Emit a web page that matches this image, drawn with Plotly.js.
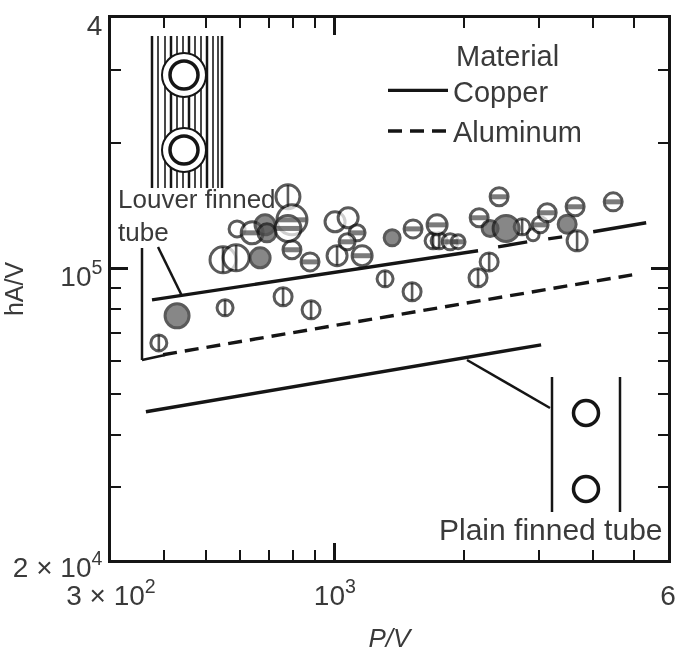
<!DOCTYPE html>
<html><head><meta charset="utf-8">
<script src="https://cdn.plot.ly/plotly-3.0.1.min.js"></script>
<style>html,body{margin:0;padding:0;background:#fff}#g{width:685px;height:653px;filter:blur(0.5px)}</style>
</head><body><div id="g"></div>
<script>
// Reference lines (P/V, hA/V); null marks the gaps left by the data circles
const copperX=[374,2160,null,2406,2813,null,3150,3395,null,4012,5335];
const copperY=[84250,110500,null,112900,116100,null,118000,119300,null,122700,129000];
const aluminumX=[397,4948];
const aluminumY=[62200,96700];
const plainX=[362,3032];
const plainY=[45370,65700];

// Data circles by fill style
const filledX=[428,669,687,694,1361,2305,2512,3488];
const filledY=[77100,106300,127500,122000,118700,125000,125000,128000];
const filledSize=[24,20,20,18,16,16,26,18];

const openX=[591,1001,1074,2904];
const openY=[124700,129700,132600,120700];
const openSize=[16,20,20,12];

const barredX=[641,794,794,875,1127,1068,1158,1523,1733,1859,1940,2419,2173,3016,3133,3641,4468,777];
const barredY=[122000,131100,111100,103900,122000,116100,107500,124700,127500,116100,116100,148900,132600,127500,136300,140900,144800,125000];
const barredSize=[22,30,18,18,16,16,20,18,20,16,14,18,18,16,18,18,18,26];

const splitX=[548,588,388,554,757,880,777,1012,1310,1515,1696,1752,2160,2293,2738,3680];
const splitY=[105100,106300,66400,80600,85700,79700,148900,107500,94600,88100,116700,116700,95200,103900,126100,116700];
const splitSize=[26,26,16,16,18,18,24,20,16,18,16,16,18,18,16,20];

// Axis ticks
const xTickVals=[300,1000,6000];
const xTickText=['3 × 10<sup>2</sup>','10<sup>3</sup>','6'];
const xMinorVals=[400,500,600,700,800,900,2000,3000,4000,5000];
const yTickVals=[20000,100000,400000];
const yTickText=['2 × 10<sup>4</sup>','10<sup>5</sup>','4'];
const yMinorVals=[30000,40000,50000,60000,70000,80000,90000,200000,300000];

const INK='#151515', TXT='#3a3a3a';
const L=111,R=668,T=18,B=560;
const X=p=>(p-L)/(R-L), Y=p=>1-(p-T)/(B-T);
const seg=(x0,y0,x1,y1,w,c)=>({type:'line',xref:'paper',yref:'paper',x0:X(x0),y0:Y(y0),x1:X(x1),y1:Y(y1),line:{color:c||INK,width:w||2}});
const ring=(cx,cy,r,w,fill)=>({type:'circle',xref:'paper',yref:'paper',x0:X(cx-r),x1:X(cx+r),y0:Y(cy+r),y1:Y(cy-r),fillcolor:fill||'rgba(0,0,0,0)',line:{color:INK,width:w}});

const shapes=[];
// Louver finned tube sketch
[152,158,165,171,177,183,189,195,201,207,213,218,222].forEach((x,i)=>shapes.push(seg(x,36,x,188,(i%3==0)?2.5:1.8,(i%3==0)?INK:'#333')));
[[184,75],[184,150]].forEach(c=>{shapes.push(ring(c[0],c[1],22,2,'#fff'));shapes.push(ring(c[0],c[1],14,3.5,'#fff'));});
// Plain finned tube sketch
shapes.push(seg(552,377,552,512,2.5),seg(620,377,620,512,2.5));
shapes.push(ring(586,413,12.5,3.5),ring(586,489,12.5,3.5));
// Leaders
shapes.push(seg(142,248,142,360,2.5),seg(142,360,165,355,2.5),seg(158,247,182,296,2.5),seg(467,360,550,408,2.5));

const note=(t,x,y,s)=>({text:t,xref:'paper',yref:'paper',x:X(x),y:Y(y),xanchor:'left',yanchor:'middle',showarrow:false,font:{family:'Liberation Sans',size:s,color:TXT}});

const line=(x,y,name,dash,show,group)=>({x,y,name,type:'scatter',mode:'lines',connectgaps:false,showlegend:show,legendgroup:group,
  line:{color:INK,width:3.4,dash:dash||'solid'},hoverinfo:'skip'});
const pts=(x,y,size,fill,name)=>({x,y,name,type:'scatter',mode:'markers',showlegend:false,
  marker:{symbol:'circle',size,color:fill,line:{color:INK,width:3}}});
const bars=(x,y,size,sym,w,c,name)=>({x,y,name,type:'scatter',mode:'markers',showlegend:false,
  marker:{symbol:sym,size:size.map(s=>s*0.7),line:{color:c,width:w}}});

const data=[
  line(copperX,copperY,'Copper','solid',true,'a'),
  line(aluminumX,aluminumY,'Aluminum','14px,8px',true,'b'),
  line(plainX,plainY,'Plain finned tube (copper)','solid',false,'a'),
  pts(openX,openY,openSize,'#fff','Open'),
  pts(splitX,splitY,splitSize,'#fff','Split'),
  bars(splitX,splitY,splitSize,'line-ns',2.6,INK,'Split bar'),
  pts(barredX,barredY,barredSize,'#fff','Barred'),
  bars(barredX,barredY,barredSize,'line-ew',5,'#444','Barred bar'),
  pts(filledX,filledY,filledSize,'#555','Filled')
];

const axis=(range,vals,text,minor,title,extra)=>Object.assign({
  type:'log',range,tickmode:'array',tickvals:vals,ticktext:text,ticks:'inside',ticklen:17,tickwidth:2.5,tickcolor:INK,
  showgrid:false,zeroline:false,showline:true,linewidth:3,linecolor:INK,mirror:'ticks',
  tickfont:{family:'Liberation Sans',size:28,color:TXT},
  minor:{tickmode:'array',tickvals:minor,ticks:'inside',ticklen:10,tickwidth:2.2,tickcolor:INK,showgrid:false},
  title:title
},extra);

Plotly.newPlot('g',data,{
  width:685,height:653,
  margin:{l:L,r:685-R,t:T,b:653-B},
  paper_bgcolor:'#fff',plot_bgcolor:'#fff',
  font:{family:'Liberation Sans',color:TXT},
  xaxis:axis([Math.log10(300),Math.log10(6000)],xTickVals,xTickText,xMinorVals,
    {text:'<i>P/V</i>',font:{family:'Liberation Sans',size:26,color:TXT},standoff:20},{ticklabelstandoff:8}),
  yaxis:axis([Math.log10(20000),Math.log10(400000)],yTickVals,yTickText,yMinorVals,
    {text:'hA/V',font:{family:'Liberation Sans',size:25,color:TXT},standoff:0},{ticklabelshift:7}),
  showlegend:true,
  legend:{x:X(383),y:Y(65),xanchor:'left',yanchor:'top',bgcolor:'rgba(0,0,0,0)',itemwidth:60,traceorder:'grouped',tracegroupgap:0,
    font:{family:'Liberation Sans',size:29,color:TXT}},
  shapes,
  annotations:[
    note('Material',454,56,29),
    note('Louver finned',116,199,26),
    note('tube',116,232,26),
    note('Plain finned tube',437,529,30)
  ]
},{displayModeBar:false});
</script></body></html>
